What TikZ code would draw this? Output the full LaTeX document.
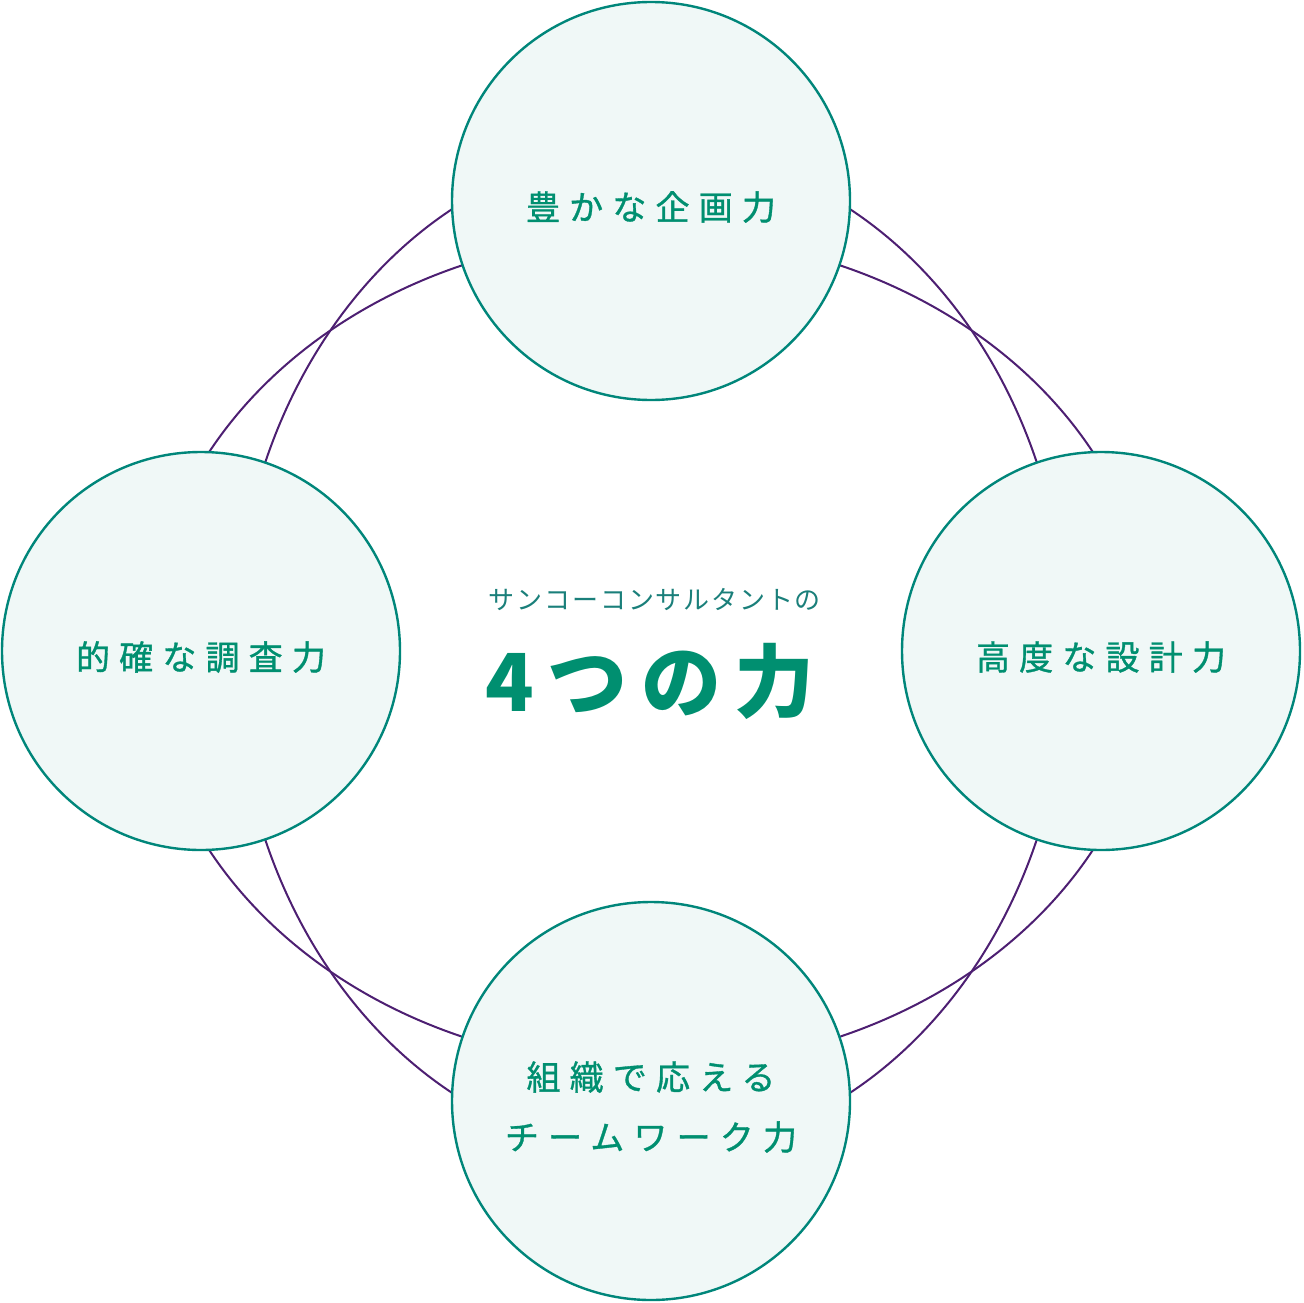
\documentclass[tikz,border=0pt]{standalone}
\usepackage{fontspec}
\newfontfamily\jpfont{Noto Sans CJK JP}
\definecolor{ringteal}{HTML}{00867A}
\definecolor{ringfill}{HTML}{F0F8F7}
\definecolor{labelgreen}{HTML}{008F70}
\definecolor{subteal}{HTML}{1A7F7A}
\definecolor{linkpurple}{HTML}{4D1F72}

\begin{document}
\begin{tikzpicture}[x=1pt, y=-1pt,
  power/.style={circle, draw=ringteal, fill=ringfill, line width=2.4pt,
                minimum size=398pt, inner sep=0pt},
  powertext/.style={text=labelgreen, align=center, inner sep=0pt, yshift=-6pt,
                font=\jpfont\fontsize{34}{60}\selectfont\addfontfeatures{LetterSpace=27,FakeBold=1}},
  subtitle/.style={text=subteal, inner sep=0pt,
                font=\jpfont\fontsize{26}{30}\selectfont\addfontfeatures{LetterSpace=7}},
  title/.style={text=labelgreen, inner sep=0pt,
                font=\jpfont\bfseries\fontsize{80}{90}\selectfont\addfontfeatures{LetterSpace=17}},
  link/.style={draw=linkpurple, line width=2pt},
]
\useasboundingbox (0,0) rectangle (1303,1303);

% Centre of the diagram
\coordinate (C) at (651,651);

% Crossing ellipses behind the circles
\draw[link] (C) ellipse [x radius=503, y radius=416];
\draw[link] (C) ellipse [x radius=416, y radius=503];

% The four powers
\node[power, label={[powertext, name=plan-text]center:豊かな企画力}] (plan) at (651,201) {};
\node[power, label={[powertext, name=design-text]center:高度な設計力}] (design) at (1101,651) {};
\node[power, label={[powertext, name=team-text]center:組織で応える\\チームワーク力}] (team) at (651,1101) {};
\node[power, label={[powertext, name=survey-text]center:的確な調査力}] (survey) at (201,651) {};

% Central title
\node[subtitle] (sub)   at (655,600) {サンコーコンサルタントの};
\node[title]    (four)  at (650,681) {4つの力};

\end{tikzpicture}
\end{document}
